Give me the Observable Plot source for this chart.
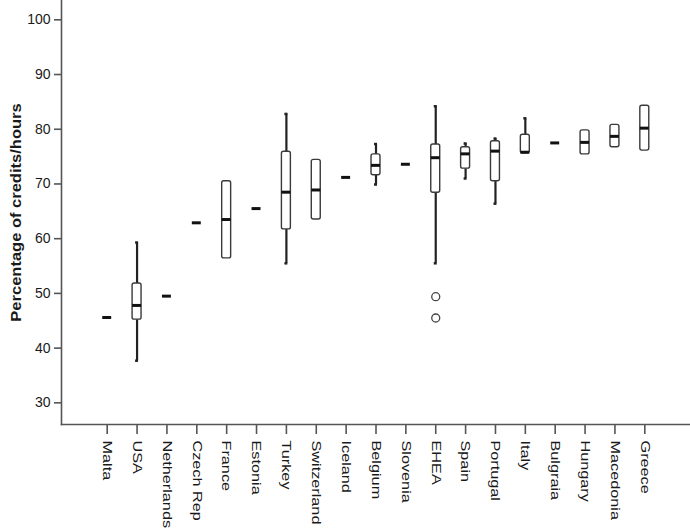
<!DOCTYPE html>
<html>
<head>
<meta charset="utf-8">
<script src="https://cdn.jsdelivr.net/npm/d3@7"></script>
<script src="https://cdn.jsdelivr.net/npm/@observablehq/plot@0.6"></script>
<style>
  body { margin: 0; background: white; }
  #chart svg g[aria-label="y-axis label"] text { font-weight: bold; }
</style>
</head>
<body>
<div id="chart"></div>
<script>
const countries = ["Malta","USA","Netherlands","Czech Rep","France","Estonia","Turkey","Switzerland","Iceland","Belgium","Slovenia","EHEA","Spain","Portugal","Italy","Bulgraia","Hungary","Macedonia","Greece"];
const whiskerLow  = [45.6, 37.7, 49.5, 62.9, 56.4, 65.5, 55.5, 63.5, 71.2, 69.9, 73.6, 55.5, 71.0, 66.4, 75.6, 77.5, 75.4, 76.7, 76.1];
const q1          = [45.6, 45.2, 49.5, 62.9, 56.4, 65.5, 61.7, 63.5, 71.2, 71.6, 73.6, 68.4, 72.8, 70.5, 75.6, 77.5, 75.4, 76.7, 76.1];
const median      = [45.6, 47.8, 49.5, 62.9, 63.5, 65.5, 68.5, 68.9, 71.2, 73.4, 73.6, 74.8, 75.5, 76.0, 75.8, 77.5, 77.6, 78.7, 80.2];
const q3          = [45.6, 51.8, 49.5, 62.9, 70.5, 65.5, 75.9, 74.4, 71.2, 75.4, 73.6, 77.2, 76.7, 77.8, 79.0, 77.5, 79.8, 80.8, 84.3];
const whiskerHigh = [45.6, 59.3, 49.5, 62.9, 70.5, 65.5, 82.8, 74.4, 71.2, 77.3, 73.6, 84.2, 77.4, 78.3, 82.0, 77.5, 79.8, 80.8, 84.3];
const outlierCountry = ["EHEA", "EHEA"];
const outlierValue = [49.4, 45.5];
const yTicks = [30, 40, 50, 60, 70, 80, 90, 100];

const idx = countries.map((_, i) => i);
const boxes = idx.filter(i => q3[i] > q1[i]);
const lowW = idx.filter(i => whiskerLow[i] < q1[i]);
const highW = idx.filter(i => whiskerHigh[i] > q3[i]);
const outliers = outlierCountry.map((c, i) => ({c, v: outlierValue[i]}));

const plot = Plot.plot({
  width: 690,
  height: 529,
  marginLeft: 61,
  marginRight: 0,
  marginTop: 0,
  marginBottom: 105,
  style: {fontFamily: "Arial, 'Liberation Sans', sans-serif", fontSize: "14px", background: "white", color: "#1a1a1a"},
  x: {type: "band", domain: countries, paddingInner: 0.7, paddingOuter: 1.38, round: false, label: null},
  y: {domain: [26.04, 103.53], label: null},
  marks: [
    Plot.frame({anchor: "left", stroke: "#555", strokeWidth: 1.6}),
    Plot.frame({anchor: "bottom", stroke: "#555", strokeWidth: 1.6}),
    Plot.axisY({ticks: yTicks, tickSize: 7, tickPadding: 4, stroke: "#555", strokeWidth: 1.6,
      label: "Percentage of credits/hours", labelAnchor: "center", labelOffset: 50, labelArrow: "none", fontSize: 14}),
    Plot.axisX({tickSize: 10, tickPadding: 6, tickRotate: 90, stroke: "#555", strokeWidth: 1.6, label: null, fontSize: 13}),
    Plot.ruleX(lowW, {x: i => countries[i], y1: i => whiskerLow[i], y2: i => q1[i], stroke: "#222", strokeWidth: 2.2}),
    Plot.ruleX(highW, {x: i => countries[i], y1: i => q3[i], y2: i => whiskerHigh[i], stroke: "#222", strokeWidth: 2.2}),
    Plot.tickY(lowW, {x: i => countries[i], y: i => whiskerLow[i], stroke: "#222", strokeWidth: 2.5, insetLeft: 3, insetRight: 3}),
    Plot.tickY(highW, {x: i => countries[i], y: i => whiskerHigh[i], stroke: "#222", strokeWidth: 2.5, insetLeft: 3, insetRight: 3}),
    Plot.barY(boxes, {x: i => countries[i], y1: i => q1[i], y2: i => q3[i], fill: "white", stroke: "#3a3a3a", strokeWidth: 1.4, rx: 2}),
    Plot.tickY(idx, {x: i => countries[i], y: i => median[i], stroke: "#111", strokeWidth: 3}),
    Plot.dot(outliers, {x: "c", y: "v", r: 4, stroke: "#444", strokeWidth: 1.3, fill: "white"})
  ]
});
document.getElementById("chart").appendChild(plot);

// The reference's lettering is stretched along the reading direction of rotated labels
d3.select(plot).selectAll('g[aria-label="x-axis tick label"] text').each(function() {
  const t = this.getAttribute("transform") || "";
  this.setAttribute("transform", t + " scale(1.25,1)");
});
d3.select(plot).selectAll('g[aria-label="y-axis label"] text').each(function() {
  const t = this.getAttribute("transform") || "";
  this.setAttribute("transform", t + " scale(1.18,1)");
});
</script>
</body>
</html>
